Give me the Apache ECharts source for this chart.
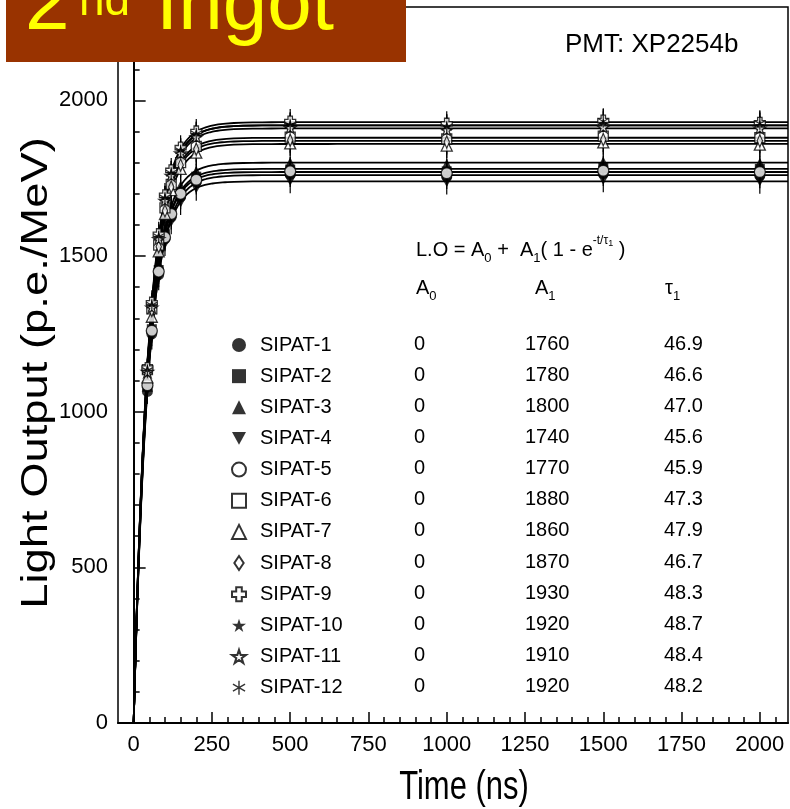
<!DOCTYPE html>
<html><head><meta charset="utf-8">
<script src="https://cdn.jsdelivr.net/npm/echarts@6/dist/echarts.min.js"></script>
<style>html,body{margin:0;padding:0;background:#fff}#c{width:790px;height:809px}</style>
</head><body><div id="c"></div><script>
// ---------- data ----------
const seriesNames = ['SIPAT-1','SIPAT-2','SIPAT-3','SIPAT-4','SIPAT-5','SIPAT-6','SIPAT-7','SIPAT-8','SIPAT-9','SIPAT-10','SIPAT-11','SIPAT-12'];
const a0Values  = [0,0,0,0,0,0,0,0,0,0,0,0];
const a1Values  = [1760,1780,1800,1740,1770,1880,1860,1870,1930,1920,1910,1920];
const tauLabels = ['46.9','46.6','47.0','45.6','45.9','47.3','47.9','46.7','48.3','48.7','48.4','48.2'];
const measTimes = [44,58,80,100,120,150,200,500,1000,1500,2000];
const sipat1  = [1065,1250,1440,1555,1625,1690,1738,1762,1755,1765,1758];
const sipat2  = [1080,1265,1455,1570,1640,1705,1755,1778,1772,1783,1780];
const sipat3  = [1095,1275,1475,1585,1660,1725,1772,1800,1795,1802,1798];
const sipat4  = [1070,1240,1430,1540,1610,1672,1718,1742,1738,1745,1740];
const sipat5  = [1085,1260,1450,1560,1635,1700,1745,1772,1766,1774,1770];
const sipat6  = [1135,1330,1535,1655,1730,1800,1852,1882,1876,1885,1880];
const sipat7  = [1110,1305,1515,1635,1712,1780,1832,1862,1855,1865,1858];
const sipat8  = [1130,1325,1530,1645,1722,1792,1843,1872,1866,1874,1870];
const sipat9  = [1140,1350,1570,1695,1775,1848,1900,1932,1925,1935,1928];
const sipat10 = [1130,1340,1560,1685,1765,1838,1890,1922,1916,1925,1920];
const sipat11 = [1128,1335,1555,1678,1758,1830,1882,1912,1905,1914,1910];
const sipat12 = [1132,1342,1562,1686,1766,1838,1892,1920,1914,1932,1925];
const errBars = [40,40,40,40,40,40,40,40,40,40,40];
const xTickValues = [0,250,500,750,1000,1250,1500,1750,2000];
const yTickValues = [0,500,1000,1500,2000];
const xMinorValues = [50,100,150,200,300,350,400,450,550,600,650,700,800,850,900,950,1050,1100,1150,1200,1300,1350,1400,1450,1550,1600,1650,1700,1800,1850,1900,1950,2050];
const yMinorValues = [100,200,300,400,600,700,800,900,1100,1200,1300,1400,1600,1700,1800,1900,2100,2200];
const allSeries = [sipat1,sipat2,sipat3,sipat4,sipat5,sipat6,sipat7,sipat8,sipat9,sipat10,sipat11,sipat12];
const tauValues = tauLabels.map(Number);

// ---------- styling ----------
const STAR = 'path://M10,0 L12.245,6.91 L19.51,6.91 L13.63,11.18 L15.88,18.09 L10,13.82 L4.12,18.09 L6.37,11.18 L0.49,6.91 L7.755,6.91 Z';
const PLUS = 'path://M3,0 L7,0 L7,3 L10,3 L10,7 L7,7 L7,10 L3,10 L3,7 L0,7 L0,3 L3,3 Z';
const DIAM = 'path://M4,0 L8,6 L4,12 L0,6 Z';
const TDOWN = 'path://M0,0 L12,0 L6,11 Z';
const AST  = 'path://M9,0 L11,0 L11,20 L9,20 Z M18.16,4.13 L19.16,5.87 L1.84,15.87 L0.84,14.13 Z M1.84,4.13 L19.16,14.13 L18.16,15.87 L0.84,5.87 Z';
const symDefs = [
  {s:'circle', size:11, fill:true},
  {s:'rect', size:10, fill:true},
  {s:'triangle', size:11, fill:true},
  {s:TDOWN, size:11, fill:true},
  {s:'circle', size:11, fill:false},
  {s:'rect', size:10, fill:false},
  {s:'triangle', size:11, fill:false},
  {s:DIAM, size:[8,12], fill:false},
  {s:PLUS, size:11, fill:false},
  {s:STAR, size:11, fill:true},
  {s:STAR, size:12, fill:false},
  {s:AST, size:12, fill:true}
];
const FONT = '"Liberation Sans", Arial, sans-serif';

const fitTimes = [];
for (let t = 0; t <= 300; t += 2) fitTimes.push(t);
for (let t = 320; t <= 2090; t += 30) fitTimes.push(t);
fitTimes.push(2090);

const series = [];
seriesNames.forEach((n, i) => {
  series.push({
    type:'line', name:'fit'+i, silent:true, symbol:'none', z:2,
    lineStyle:{color:'#000', width:1.8},
    data: fitTimes.map(t => [t, a0Values[i] + a1Values[i]*(1-Math.exp(-t/tauValues[i]))])
  });
});
const errData = [];
allSeries.forEach(arr => arr.forEach((v, j) => errData.push([measTimes[j], v, errBars[j]])));
series.push({
  type:'custom', silent:true, z:3, encode:{x:0,y:1},
  renderItem:(params, api) => {
    const x = api.value(0), y = api.value(1), e = api.value(2);
    const p1 = api.coord([x, y-e]), p2 = api.coord([x, y+e]);
    return {type:'line', shape:{x1:p1[0],y1:p1[1],x2:p2[0],y2:p2[1]}, style:{stroke:'#000', lineWidth:1.2}};
  },
  data: errData
});
seriesNames.forEach((n, i) => {
  const d = symDefs[i];
  series.push({
    type:'scatter', name:n, z:4, symbol:d.s, symbolSize:d.size, symbolKeepAspect:true,
    itemStyle: d.fill ? {color:'#000'} : {color:'#fff', borderColor:'#000', borderWidth:1.3},
    data: allSeries[i].map((v, j) => [measTimes[j], v])
  });
});

// ---------- table text ----------
const rowY0 = 344, rowStep = 31.15;
const graphics = [];
seriesNames.forEach((n, i) => {
  const y = rowY0 + i*rowStep;
  graphics.push({type:'text', x:414, y:y, z:50, style:{text:String(a0Values[i]), font:'20px '+FONT, fill:'#000', verticalAlign:'middle'}});
  graphics.push({type:'text', x:525, y:y, z:50, style:{text:String(a1Values[i]), font:'20px '+FONT, fill:'#000', verticalAlign:'middle'}});
  graphics.push({type:'text', x:664, y:y, z:50, style:{text:tauLabels[i], font:'20px '+FONT, fill:'#000', verticalAlign:'middle'}});
});
const richBase = {
  t:{fontSize:20, fontFamily:FONT, lineHeight:20, verticalAlign:'middle', fill:'#000'},
  sub:{fontSize:13, fontFamily:FONT, lineHeight:30, verticalAlign:'bottom', fill:'#000'}
};
graphics.push({type:'text', x:416, y:288, z:50, style:{text:'{t|A}{sub|0}', rich:richBase, verticalAlign:'middle'}});
graphics.push({type:'text', x:535, y:288, z:50, style:{text:'{t|A}{sub|1}', rich:richBase, verticalAlign:'middle'}});
graphics.push({type:'text', x:665, y:288, z:50, style:{text:'{t|τ}{sub|1}', rich:richBase, verticalAlign:'middle'}});
graphics.push({type:'text', x:416, y:250, z:50, style:{
  text:'{t|L.O = A}{sub|0}{t| +  A}{sub|1}{t|( 1 - e}{sup|-t/τ}{ss|1}{t| )}',
  verticalAlign:'middle',
  rich:{
    t:{fontSize:20, fontFamily:FONT, lineHeight:20, verticalAlign:'middle', fill:'#000'},
    sub:{fontSize:13, fontFamily:FONT, lineHeight:30, verticalAlign:'bottom', fill:'#000'},
    sup:{fontSize:12, fontFamily:FONT, lineHeight:30, verticalAlign:'top', fill:'#000'},
    ss:{fontSize:9, fontFamily:FONT, lineHeight:24, verticalAlign:'top', padding:[4,0,0,0], fill:'#000'}
  }
}});
graphics.push({type:'text', x:565, y:45, z:50, style:{text:'PMT: XP2254b', font:'26px '+FONT, fill:'#000', verticalAlign:'middle'}});
// axis titles
graphics.push({type:'text', x:464, y:788, scaleY:1.33, z:50, style:{text:'Time (ns)', font:'31px '+FONT, fill:'#000', align:'center', verticalAlign:'middle'}});
graphics.push({type:'text', x:37, y:373, rotation:Math.PI/2, scaleX:1.26, z:50, style:{text:'Light Output (p.e./MeV)', font:'36px '+FONT, fill:'#000', align:'center', verticalAlign:'middle'}});
// banner
graphics.push({type:'rect', z:90, shape:{x:6, y:0, width:400, height:62}, style:{fill:'#993300'}});
graphics.push({type:'text', x:25, y:7, z:91, style:{text:'2', font:'80px '+FONT, fill:'#ffff00', verticalAlign:'middle'}});
graphics.push({type:'text', x:79, y:2, z:91, style:{text:'nd', font:'46px '+FONT, fill:'#ffff00', verticalAlign:'middle'}});
graphics.push({type:'text', x:156, y:7, z:91, style:{text:'Ingot', font:'80px '+FONT, fill:'#ffff00', verticalAlign:'middle'}});

const chart = echarts.init(document.getElementById('c'), null, {renderer:'canvas'});
chart.setOption({
  animation:false,
  backgroundColor:'#fff',
  grid:{left:118, right:2, top:7, bottom:86, show:true, borderColor:'#000', borderWidth:1.5, backgroundColor:'transparent'},
  xAxis:[
    {type:'value', min:-50, max:2090, splitLine:{show:false},
     axisLine:{lineStyle:{color:'#000', width:2}},
     axisTick:{inside:true, length:11, lineStyle:{color:'#000', width:1.5}, customValues:xTickValues},
     axisLabel:{customValues:xTickValues, formatter:v => String(v), color:'#000', fontSize:22, fontFamily:FONT, margin:11}},
    {type:'value', min:-50, max:2090, position:'bottom', splitLine:{show:false},
     axisLine:{show:false},
     axisTick:{inside:true, length:6, lineStyle:{color:'#000', width:1.5}, customValues:xMinorValues},
     axisLabel:{show:false}}
  ],
  yAxis:[
    {type:'value', min:0, max:2300, splitLine:{show:false},
     axisLine:{show:true, lineStyle:{color:'#000', width:2}},
     axisTick:{show:true, inside:true, length:12, lineStyle:{color:'#000', width:1.5}, customValues:yTickValues},
     axisLabel:{customValues:yTickValues, formatter:v => String(v), color:'#000', fontSize:22, fontFamily:FONT, margin:10}},
    {type:'value', min:0, max:2300, position:'left', splitLine:{show:false},
     axisLine:{show:false},
     axisTick:{show:true, inside:true, length:6, lineStyle:{color:'#000', width:1.5}, customValues:yMinorValues},
     axisLabel:{show:false}}
  ],
  legend:{
    data:seriesNames, orient:'vertical', left:226, top:330, itemWidth:14, itemHeight:14, itemGap:11.15,
    selectedMode:false, symbolKeepAspect:true,
    formatter: name => '{g|}{n|' + name + '}',
    textStyle:{color:'#000', fontSize:20, fontFamily:FONT, rich:{g:{width:9, lineHeight:20}, n:{fontSize:20, fontFamily:FONT, lineHeight:20, color:'#000'}}}
  },
  graphic:graphics,
  series:series
});
</script></body></html>
